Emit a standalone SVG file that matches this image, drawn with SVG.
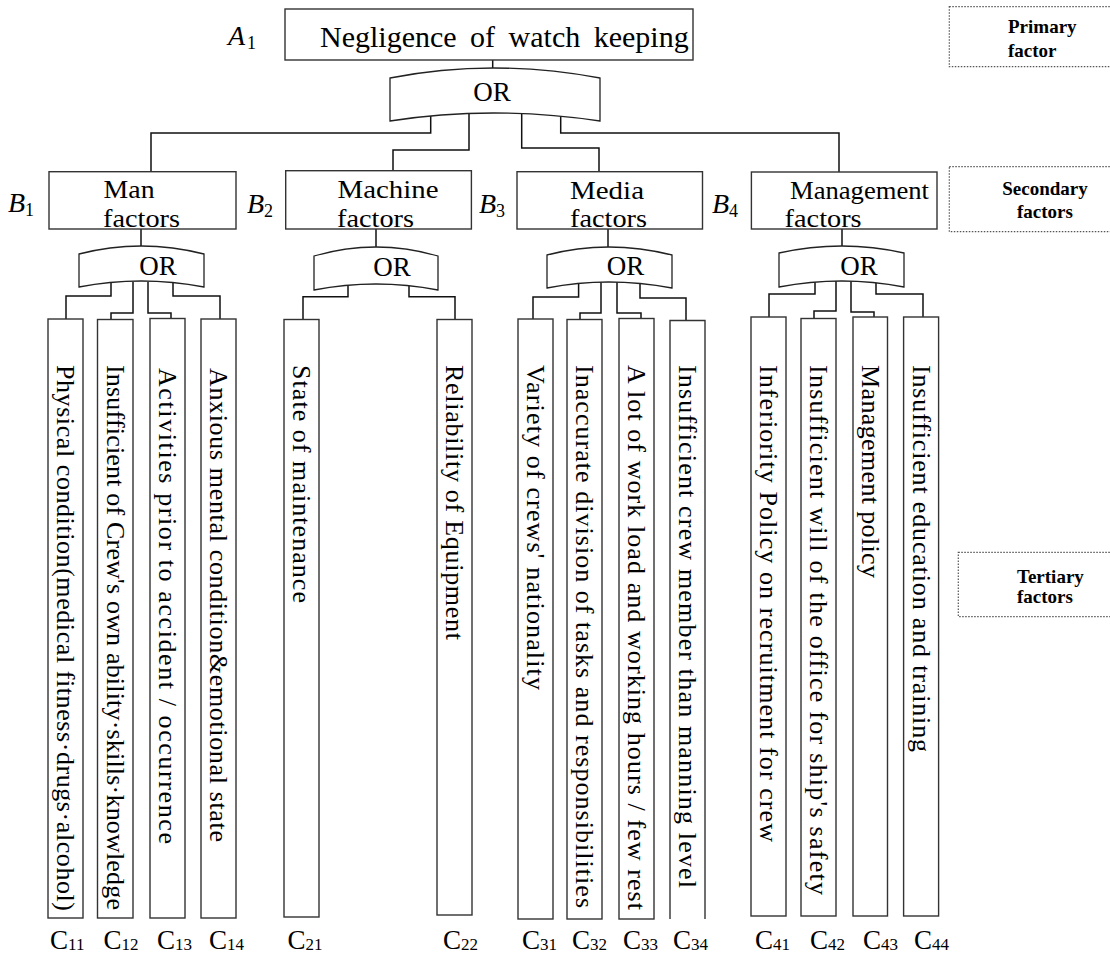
<svg xmlns="http://www.w3.org/2000/svg" width="1110" height="958" viewBox="0 0 1110 958">
<style>
.box{fill:#fff;stroke:#333;stroke-width:1.4}
.gate{fill:#fff;stroke:#222;stroke-width:1.3}
.con{fill:none;stroke:#111;stroke-width:1.5}
.dot{fill:none;stroke:#555;stroke-width:1.2;stroke-dasharray:1.5 1.5}
.t{font-family:"Liberation Serif","Times New Roman",serif;fill:#000}
.bt{font-size:26px}
.or{font-size:27px}
.vt{font-size:26px}
.lab{font-family:"Liberation Serif","Times New Roman",serif;font-size:28px;font-style:italic}
.sub{font-style:normal;font-size:18px}
.cl{font-family:"Liberation Serif","Times New Roman",serif;font-size:27px}
.cs{font-size:17px}
.side{font-family:"Liberation Serif","Times New Roman",serif;font-size:19px;font-weight:bold}
</style>
<g id="connectors">
<path class="con" d="M492.7,60 V72"/>
<path class="con" d="M430.7,116 V133 H151 V172"/>
<path class="con" d="M469,113 V150 H393 V171"/>
<path class="con" d="M521.7,113 V148 H599 V172"/>
<path class="con" d="M560.7,116 V133 H839 V172"/>
<path class="con" d="M141,229 V250"/>
<path class="con" d="M111,283 V296 H66 V319"/>
<path class="con" d="M133,282 V313 H111 V319.5"/>
<path class="con" d="M148,282 V313 H171 V318.5"/>
<path class="con" d="M173,283 V296 H220 V319"/>
<path class="con" d="M376,229 V250"/>
<path class="con" d="M348,286 V296.7 H303 V319.5"/>
<path class="con" d="M409,286 V296.7 H455 V319.5"/>
<path class="con" d="M608,229 V250"/>
<path class="con" d="M578.6,283 V297 H533 V319"/>
<path class="con" d="M601,282 V313 H580 V319.5"/>
<path class="con" d="M617,282 V313 H641 V318.5"/>
<path class="con" d="M640,283 V298 H686 V320.5"/>
<path class="con" d="M842,229 V249"/>
<path class="con" d="M815,282 V294 H769 V317"/>
<path class="con" d="M836,281 V311 H814 V318.5"/>
<path class="con" d="M851,281 V312 H874 V317"/>
<path class="con" d="M876,282 V294 H923 V317"/>
</g>
<g id="A1">
<rect class="box" x="285" y="9" width="408" height="51"/>
<text class="t" x="320" y="46.7" font-size="30" word-spacing="6">Negligence of watch keeping</text>
<text class="lab" x="228" y="45">A<tspan class="sub" dx="2" dy="4">1</tspan></text>
</g>
<g id="OR_A1">
<path class="gate" d="M390,78 Q492,58 600,78 V121 Q492,105 390,121 Z"/>
<text class="t or" x="492" y="101" text-anchor="middle">OR</text>
</g>
<g id="B1">
<rect class="box" x="49" y="171.7" width="187" height="57.3"/>
<text class="t bt" x="103.6" y="198" textLength="51" lengthAdjust="spacingAndGlyphs">Man</text>
<text class="t bt" x="103" y="226.5" textLength="77" lengthAdjust="spacingAndGlyphs">factors</text>
<text class="lab" x="8" y="212">B<tspan class="sub" dy="4">1</tspan></text>
</g>
<g id="B2">
<rect class="box" x="285.7" y="170.7" width="185.7" height="58.3"/>
<text class="t bt" x="337.5" y="198" textLength="101" lengthAdjust="spacingAndGlyphs">Machine</text>
<text class="t bt" x="337" y="226.5" textLength="77" lengthAdjust="spacingAndGlyphs">factors</text>
<text class="lab" x="247" y="213">B<tspan class="sub" dy="4">2</tspan></text>
</g>
<g id="B3">
<rect class="box" x="517" y="171.7" width="185.5" height="57.3"/>
<text class="t bt" x="570" y="198.5" textLength="74" lengthAdjust="spacingAndGlyphs">Media</text>
<text class="t bt" x="570" y="227" textLength="77" lengthAdjust="spacingAndGlyphs">factors</text>
<text class="lab" x="479" y="212.5">B<tspan class="sub" dy="4">3</tspan></text>
</g>
<g id="B4">
<rect class="box" x="751.4" y="172" width="185.6" height="57"/>
<text class="t bt" x="790" y="198.5" textLength="139" lengthAdjust="spacingAndGlyphs">Management</text>
<text class="t bt" x="784.6" y="227" textLength="77" lengthAdjust="spacingAndGlyphs">factors</text>
<text class="lab" x="712" y="212.5">B<tspan class="sub" dy="4">4</tspan></text>
</g>
<g id="OR_B1">
<path class="gate" d="M79,254 Q141,238 204,254 V287 Q141,275 79,287 Z"/>
<text class="t or" x="158" y="275" text-anchor="middle">OR</text>
</g>
<g id="OR_B2">
<path class="gate" d="M314,256 Q376,238 438,256 V290 Q376,278 314,290 Z"/>
<text class="t or" x="392" y="276" text-anchor="middle">OR</text>
</g>
<g id="OR_B3">
<path class="gate" d="M547,255 Q608,239 672,255 V288 Q608,276 547,288 Z"/>
<text class="t or" x="625.5" y="275" text-anchor="middle">OR</text>
</g>
<g id="OR_B4">
<path class="gate" d="M779,253 Q842,239 904,253 V287 Q842,275 779,287 Z"/>
<text class="t or" x="859" y="275" text-anchor="middle">OR</text>
</g>
<g id="C11">
<rect class="box" x="48" y="319" width="35" height="599"/>
<text class="t vt" transform="translate(57,365) rotate(90)" textLength="546" lengthAdjust="spacing">Physical condition(medical fitness·drugs·alcohol)</text>
<text class="cl" x="50" y="949">C<tspan class="cs" dy="1">11</tspan></text>
</g>
<g id="C12">
<rect class="box" x="97.5" y="319.5" width="35.5" height="598.5"/>
<text class="t vt" transform="translate(106.5,365) rotate(90)" textLength="545" lengthAdjust="spacing">Insufficient of Crew's own ability·skills·knowledge</text>
<text class="cl" x="103.6" y="949">C<tspan class="cs" dy="1">12</tspan></text>
</g>
<g id="C13">
<rect class="box" x="150" y="318.5" width="35" height="599.5"/>
<text class="t vt" transform="translate(159,368) rotate(90)" textLength="476" lengthAdjust="spacing">Activities prior to accident / occurrence</text>
<text class="cl" x="157" y="949">C<tspan class="cs" dy="1">13</tspan></text>
</g>
<g id="C14">
<rect class="box" x="201" y="319" width="35" height="599"/>
<text class="t vt" transform="translate(210,368) rotate(90)" textLength="474" lengthAdjust="spacing">Anxious mental condition&amp;emotional state</text>
<text class="cl" x="209" y="949">C<tspan class="cs" dy="1">14</tspan></text>
</g>
<g id="C21">
<rect class="box" x="284" y="319.5" width="35" height="597.5"/>
<text class="t vt" transform="translate(293,365) rotate(90)" textLength="238" lengthAdjust="spacing">State of maintenance</text>
<text class="cl" x="287.5" y="949">C<tspan class="cs" dy="1">21</tspan></text>
</g>
<g id="C22">
<rect class="box" x="437" y="319.5" width="35" height="595.5"/>
<text class="t vt" transform="translate(446,365) rotate(90)" textLength="275" lengthAdjust="spacing">Reliability of Equipment</text>
<text class="cl" x="443" y="949">C<tspan class="cs" dy="1">22</tspan></text>
</g>
<g id="C31">
<rect class="box" x="518" y="319" width="35" height="600"/>
<text class="t vt" transform="translate(527,365) rotate(90)" textLength="325" lengthAdjust="spacing">Variety of crews' nationality</text>
<text class="cl" x="522" y="949">C<tspan class="cs" dy="1">31</tspan></text>
</g>
<g id="C32">
<rect class="box" x="567" y="319.5" width="35" height="599.5"/>
<text class="t vt" transform="translate(576,365) rotate(90)" textLength="543" lengthAdjust="spacing">Inaccurate division of tasks and responsibilities</text>
<text class="cl" x="572" y="949">C<tspan class="cs" dy="1">32</tspan></text>
</g>
<g id="C33">
<rect class="box" x="619" y="318.5" width="35" height="600.5"/>
<text class="t vt" transform="translate(628,365) rotate(90)" textLength="545" lengthAdjust="spacing">A lot of work load and working hours / few rest</text>
<text class="cl" x="623" y="949">C<tspan class="cs" dy="1">33</tspan></text>
</g>
<g id="C34">
<path class="box" d="M670,919 V320.5 H705 V919"/>
<text class="t vt" transform="translate(679,365) rotate(90)" textLength="523" lengthAdjust="spacing">Insufficient crew member than manning level</text>
<text class="cl" x="673" y="949">C<tspan class="cs" dy="1">34</tspan></text>
</g>
<g id="C41">
<rect class="box" x="751" y="317" width="35" height="599"/>
<text class="t vt" transform="translate(760,365) rotate(90)" textLength="477" lengthAdjust="spacing">Inferiority Policy on recruitment for crew</text>
<text class="cl" x="755" y="949">C<tspan class="cs" dy="1">41</tspan></text>
</g>
<g id="C42">
<rect class="box" x="801" y="318.5" width="35" height="597.5"/>
<text class="t vt" transform="translate(810,365) rotate(90)" textLength="530" lengthAdjust="spacing">Insufficient will of the office for ship's safety</text>
<text class="cl" x="810" y="949">C<tspan class="cs" dy="1">42</tspan></text>
</g>
<g id="C43">
<rect class="box" x="853" y="317" width="34.5" height="599"/>
<text class="t vt" transform="translate(862,365) rotate(90)" textLength="213" lengthAdjust="spacing">Management policy</text>
<text class="cl" x="863" y="949">C<tspan class="cs" dy="1">43</tspan></text>
</g>
<g id="C44">
<rect class="box" x="903.6" y="317" width="35" height="599"/>
<text class="t vt" transform="translate(912.5,365) rotate(90)" textLength="387" lengthAdjust="spacing">Insufficient education and training</text>
<text class="cl" x="914" y="949">C<tspan class="cs" dy="1">44</tspan></text>
</g>
<g id="level_primary">
<rect class="dot" x="949.3" y="6.7" width="170" height="60"/>
<text class="side" x="1008" y="33.3">Primary</text>
<text class="side" x="1008" y="56.7">factor</text>
</g>
<g id="level_secondary">
<rect class="dot" x="949.3" y="166.7" width="170" height="65"/>
<text class="side" x="1045" y="195" text-anchor="middle">Secondary</text>
<text class="side" x="1045" y="218.3" text-anchor="middle">factors</text>
</g>
<g id="level_tertiary">
<rect class="dot" x="958.3" y="552.3" width="170" height="64.4"/>
<text class="side" x="1017" y="583.3">Tertiary</text>
<text class="side" x="1017" y="603.3">factors</text>
</g>
</svg>
